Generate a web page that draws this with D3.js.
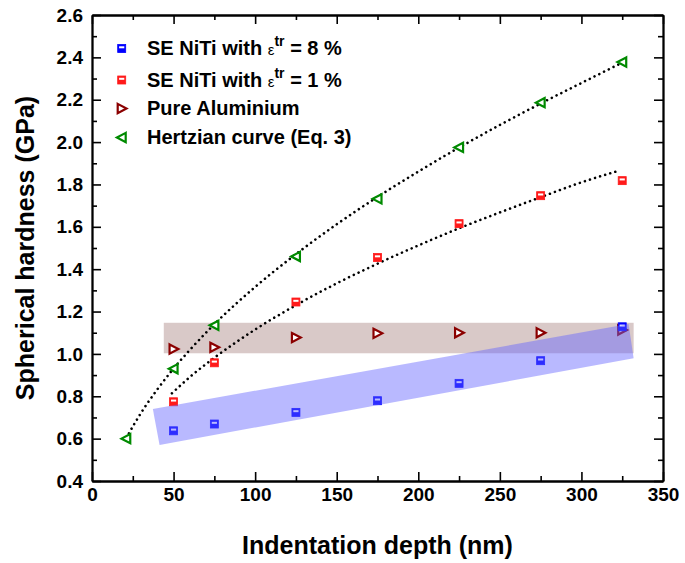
<!DOCTYPE html>
<html><head><meta charset="utf-8">
<script src="https://cdn.jsdelivr.net/npm/d3@7"></script>
<style>
html,body{margin:0;padding:0;background:#fff;}
svg{display:block;font-family:"Liberation Sans",Arial,sans-serif;}
</style></head>
<body><svg id="chart" width="685" height="563"></svg>
<script>
// ---- data ----
const depths = [50, 75, 125, 175, 225, 275, 325];
const niti8 = [0.637, 0.669, 0.724, 0.779, 0.861, 0.968, 1.128];
const niti1 = [0.774, 0.958, 1.245, 1.455, 1.615, 1.747, 1.818];
const aluminium = [1.023, 1.031, 1.077, 1.097, 1.100, 1.100, 1.113];
const hertzX = [21, 50, 75, 125, 175, 225, 275, 325];
const hertzY = [0.600, 0.930, 1.135, 1.460, 1.732, 1.975, 2.186, 2.378];
const hertzFitX = [21, 30, 40, 50, 60, 75, 100, 125, 150, 175, 200, 225, 250, 275, 300, 325];
const hertzFitY = [0.603, 0.721, 0.832, 0.931, 1.019, 1.140, 1.316, 1.471, 1.612, 1.741, 1.861, 1.974, 2.081, 2.182, 2.279, 2.375];
const nitiFitX = [49, 60, 75, 100, 125, 150, 175, 200, 225, 250, 275, 300, 323];
const nitiFitY = [0.814, 0.891, 0.982, 1.115, 1.230, 1.333, 1.426, 1.512, 1.593, 1.668, 1.740, 1.810, 1.865];
const alBandX = [44, 332];
const alBandY = [1.003, 1.147];
const nitiBandX = [37.3, 328.9, 332, 41.4];
const nitiBandY = [0.740, 1.141, 0.979, 0.570];
const xTicks = [0, 50, 100, 150, 200, 250, 300, 350];
const yTicks = [0.4, 0.6, 0.8, 1.0, 1.2, 1.4, 1.6, 1.8, 2.0, 2.2, 2.4, 2.6];
const legendLabels = ["SE NiTi with ", "SE NiTi with ", "Pure Aluminium", "Hertzian curve (Eq. 3)"];
const legendStrain = ["8 %", "1 %"];

// ---- layout ----
const W = 685, H = 563;
const m = {left: 92, right: 22, top: 15, bottom: 82};
const svg = d3.select("#chart");
const x = d3.scaleLinear().domain([0, 350]).range([m.left, W - m.right]);
const y = d3.scaleLinear().domain([0.4, 2.6]).range([H - m.bottom, m.top]);

const BLUE = "#0000ff", RED = "#ff1a1a", BROWN = "#8b0000", GREEN = "#008a00";

// bands (aluminium behind)
svg.append("rect")
  .attr("x", x(alBandX[0])).attr("y", y(alBandY[1]))
  .attr("width", x(alBandX[1]) - x(alBandX[0]))
  .attr("height", y(alBandY[0]) - y(alBandY[1]))
  .attr("fill", "#d9c9c8");

// fit curves
const line = d3.line().x(d => x(d[0])).y(d => y(d[1])).curve(d3.curveMonotoneX);
function dotted(xs, ys) {
  svg.append("path").datum(xs.map((v, i) => [v, ys[i]]))
    .attr("d", line).attr("fill", "none").attr("stroke", "#000")
    .attr("stroke-width", 2.6).attr("stroke-linecap", "round")
    .attr("stroke-dasharray", "0.01 5.3");
}
dotted(hertzFitX, hertzFitY);
dotted(nitiFitX, nitiFitY);

// markers
function square(g, cx, cy, col) {
  g.append("rect").attr("x", cx - 4).attr("y", cy - 4).attr("width", 8).attr("height", 8)
    .attr("fill", col).attr("stroke", col).attr("stroke-width", 0.8);
  g.append("rect").attr("x", cx - 2.6).attr("y", cy - 2.2).attr("width", 5.2).attr("height", 2)
    .attr("fill", "#fff");
}
function triRight(g, cx, cy, col) {
  g.append("path").attr("d", `M${cx-4},${cy-4.6}L${cx+4.8},${cy}L${cx-4},${cy+4.6}Z`)
    .attr("fill", "#fff").attr("stroke", col).attr("stroke-width", 2.2).attr("stroke-linejoin", "miter");
}
function triLeft(g, cx, cy, col) {
  g.append("path").attr("d", `M${cx+4},${cy-4.6}L${cx-4.8},${cy}L${cx+4},${cy+4.6}Z`)
    .attr("fill", "#fff").attr("stroke", col).attr("stroke-width", 2.2).attr("stroke-linejoin", "miter");
}
const gm = svg.append("g");
depths.forEach((d, i) => triRight(gm, x(d), y(aluminium[i]), BROWN));
hertzX.forEach((d, i) => triLeft(gm, x(d), y(hertzY[i]), GREEN));
depths.forEach((d, i) => square(gm, x(d), y(niti1[i]), RED));
depths.forEach((d, i) => square(gm, x(d), y(niti8[i]), BLUE));

// NiTi band on top, translucent
svg.append("polygon")
  .attr("points", nitiBandX.map((v, i) => [x(v), y(nitiBandY[i])].join(",")).join(" "))
  .attr("fill", "rgba(100,100,255,0.45)");

// axes
const fontTick = 19;
function styleAxis(g) {
  g.select(".domain").attr("stroke", "#000").attr("stroke-width", 1.8);
  g.selectAll(".tick line").attr("stroke", "#000").attr("stroke-width", 1.6);
  g.selectAll("text").attr("font-size", fontTick).attr("font-weight", "bold")
    .attr("font-family", "'Liberation Sans', Arial, sans-serif").attr("fill", "#000");
}
const xMinor = d3.range(25, 350, 50);
const yMinor = d3.range(0.5, 2.6, 0.2);

const gxb = svg.append("g").attr("transform", `translate(0,${H - m.bottom})`)
  .call(d3.axisBottom(x).tickValues(xTicks).tickFormat(d3.format("d")).tickSizeInner(-9).tickSizeOuter(0).tickPadding(7));
styleAxis(gxb);
const gxbm = svg.append("g").attr("transform", `translate(0,${H - m.bottom})`)
  .call(d3.axisBottom(x).tickValues(xMinor).tickFormat("").tickSizeInner(-5).tickSizeOuter(0));
styleAxis(gxbm);
const gxt = svg.append("g").attr("transform", `translate(0,${m.top})`)
  .call(d3.axisTop(x).tickValues(xTicks).tickFormat("").tickSizeInner(-9).tickSizeOuter(0));
styleAxis(gxt);
const gxtm = svg.append("g").attr("transform", `translate(0,${m.top})`)
  .call(d3.axisTop(x).tickValues(xMinor).tickFormat("").tickSizeInner(-5).tickSizeOuter(0));
styleAxis(gxtm);

const gyl = svg.append("g").attr("transform", `translate(${m.left},0)`)
  .call(d3.axisLeft(y).tickValues(yTicks).tickFormat(d3.format(".1f")).tickSizeInner(-9).tickSizeOuter(0).tickPadding(9));
styleAxis(gyl);
const gylm = svg.append("g").attr("transform", `translate(${m.left},0)`)
  .call(d3.axisLeft(y).tickValues(yMinor).tickFormat("").tickSizeInner(-5).tickSizeOuter(0));
styleAxis(gylm);
const gyr = svg.append("g").attr("transform", `translate(${W - m.right},0)`)
  .call(d3.axisRight(y).tickValues(yTicks).tickFormat("").tickSizeInner(-9).tickSizeOuter(0));
styleAxis(gyr);
const gyrm = svg.append("g").attr("transform", `translate(${W - m.right},0)`)
  .call(d3.axisRight(y).tickValues(yMinor).tickFormat("").tickSizeInner(-5).tickSizeOuter(0));
styleAxis(gyrm);

// axis titles
svg.append("text").attr("x", (m.left + W - m.right) / 2).attr("y", 554)
  .attr("text-anchor", "middle").attr("font-size", 25).attr("font-weight", "bold")
  .text("Indentation depth (nm)");
svg.append("text").attr("transform", `translate(34,${(m.top + H - m.bottom) / 2}) rotate(-90)`)
  .attr("text-anchor", "middle").attr("font-size", 25).attr("font-weight", "bold")
  .text("Spherical hardness (GPa)");

// legend
const lg = svg.append("g");
const baselines = [55, 86.5, 115, 144];
const markerX = 121.7, textX = 147;
const markerFns = [
  (cy) => square(lg, markerX, cy, BLUE),
  (cy) => square(lg, markerX, cy, RED),
  (cy) => triRight(lg, markerX, cy, BROWN),
  (cy) => triLeft(lg, markerX, cy, GREEN)
];
legendLabels.forEach((lab, i) => {
  markerFns[i](baselines[i] - 6.5);
  const t = lg.append("text").attr("x", textX).attr("y", baselines[i])
    .attr("font-size", 20).attr("font-weight", "bold").text(lab);
  if (i < 2) {
    t.append("tspan").attr("font-weight", "normal").attr("font-size", 15).text("ε");
    t.append("tspan").attr("dy", -9).attr("font-size", 14).text("tr");
    t.append("tspan").attr("dy", 9).text(" = " + legendStrain[i]);
  }
});
</script>
</body></html>
